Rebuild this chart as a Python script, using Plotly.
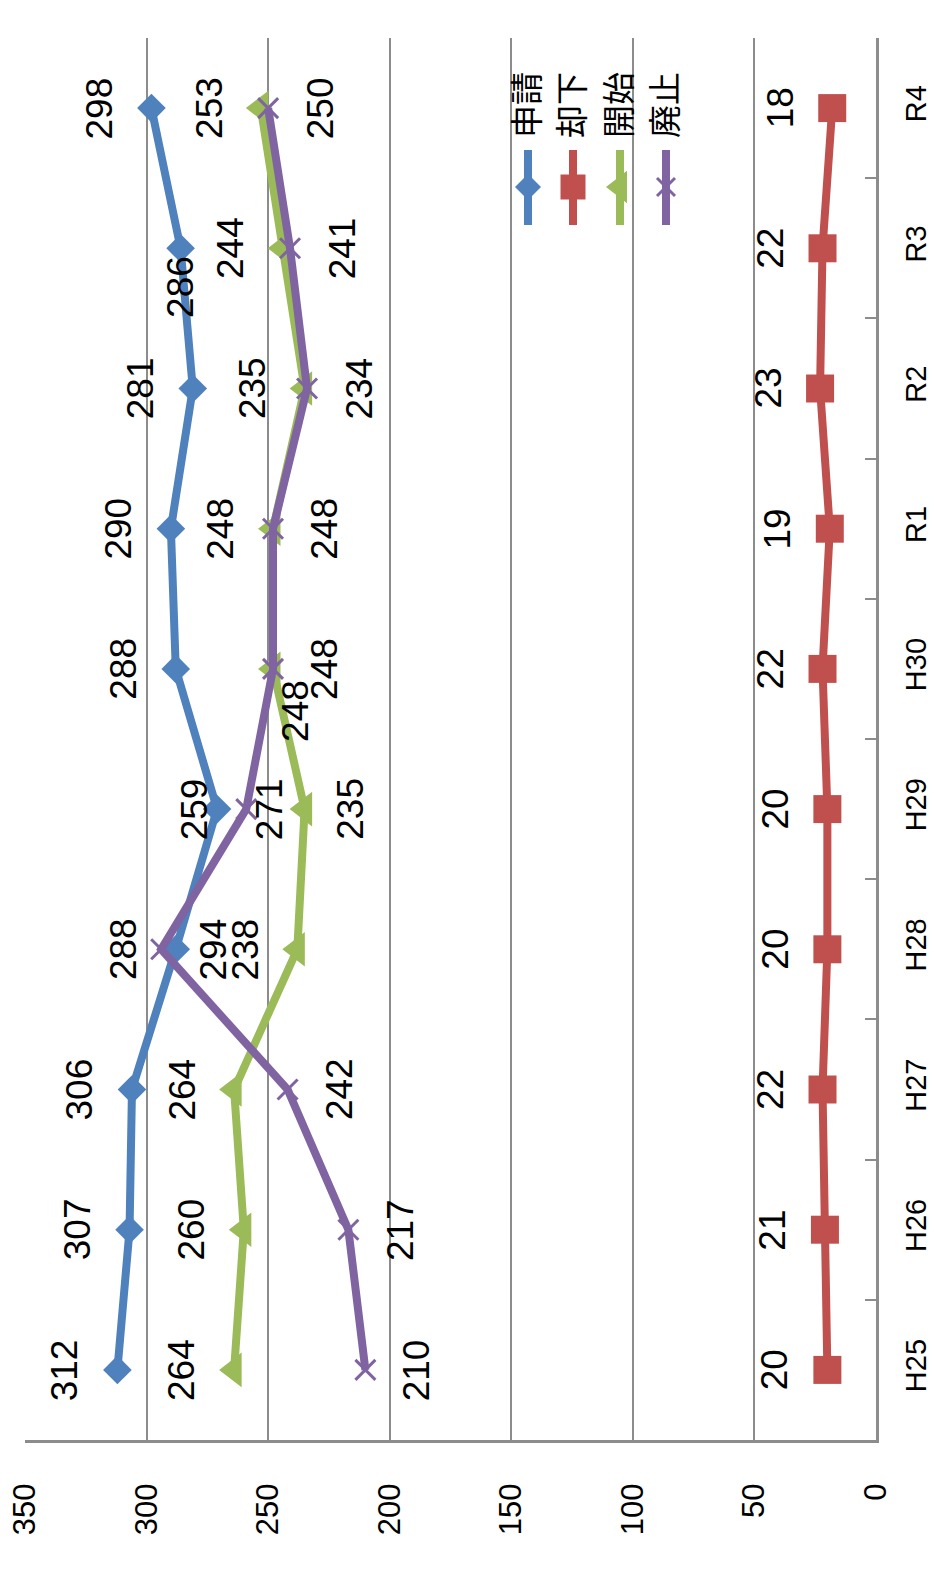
import plotly.graph_objects as go

# ---------------- data ----------------
categories = ["H25", "H26", "H27", "H28", "H29", "H30", "R1", "R2", "R3", "R4"]
series_names = ["申請", "却下", "開始", "廃止"]

shinsei = [312, 307, 306, 288, 271, 288, 290, 281, 286, 298]
kyakka = [20, 21, 22, 20, 20, 22, 19, 23, 22, 18]
kaishi = [264, 260, 264, 238, 235, 248, 248, 235, 244, 253]
haishi = [210, 217, 242, 294, 259, 248, 248, 234, 241, 250]

# data-label texts as printed on the chart
shinsei_labels = [312, 307, 306, 288, 259, 288, 290, 281, 286, 298]
kyakka_labels = [20, 21, 22, 20, 20, 22, 19, 23, 22, 18]
kaishi_labels = [264, 260, 264, 238, 235, 248, 248, 235, 244, 253]
haishi_labels = [210, 217, 242, 294, 271, 248, 248, 234, 241, 250]

value_ticks = [0, 50, 100, 150, 200, 250, 300, 350]

# ---------------- style ----------------
colors = ["#4F81BD", "#C0504D", "#9BBB59", "#8064A2"]
symbols = ["diamond", "square", "triangle-left", "x-thin"]
msizes = [22, 28, 30, 20]
leg_msizes = [20, 25, 28, 18]
label_side = [-1, -1, -1, 1]
LABEL_OFF = 52
# individual label adjustments: (series index, category index) -> (xshift, yshift)
label_overrides = {(2, 4): (45, 0), (2, 5): (23, -42), (0, 8): (0, -39)}

grid_col = "#8C8C8C"
num_font = "Liberation Sans Narrow, Arial Narrow, Liberation Sans, Arial, sans-serif"

# page geometry (the page body has an 8px default margin)
PAD = 8
PAGE_W, PAGE_H = 939, 1573
W, H = PAGE_W - 2 * PAD, PAGE_H - 2 * PAD - 10
PLOT_L, PLOT_R, PLOT_T, PLOT_B = 25, 876, 38, 1440   # page pixels
L = PLOT_L - PAD
T = PLOT_T - PAD
R = (PAD + W) - PLOT_R
B = (PAD + H) - PLOT_B

values = [shinsei, kyakka, kaishi, haishi]
labels = [shinsei_labels, kyakka_labels, kaishi_labels, haishi_labels]

fig = go.Figure()

for i, name in enumerate(series_names):
    mk = dict(symbol=symbols[i], size=msizes[i], color=colors[i])
    if symbols[i] == "x-thin":
        mk["line"] = dict(color=colors[i], width=3)
    fig.add_trace(go.Scatter(
        x=values[i], y=categories, mode="lines+markers", name=name,
        line=dict(color=colors[i], width=8), marker=mk,
        xaxis="x", yaxis="y", showlegend=False, hoverinfo="skip",
    ))

annotations = []
for i in range(4):
    for j, c in enumerate(categories):
        xs, ys = label_overrides.get((i, j), (label_side[i] * LABEL_OFF, 0))
        annotations.append(dict(
            x=labels[i][j], y=c, xref="x", yref="y", text=str(labels[i][j]),
            showarrow=False, textangle=-90, xshift=xs, yshift=ys,
            font=dict(family=num_font, size=37, color="#000000"),
            xanchor="center", yanchor="middle",
        ))

# ---------------- legend (rotated, drawn on a page-pixel overlay axis) ----------------
leg_x = [528, 573, 620, 666]
leg_line_y = [150, 225]
leg_marker_y = 187
leg_text_y = 105

for i, name in enumerate(series_names):
    fig.add_trace(go.Scatter(
        x=[leg_x[i], leg_x[i]], y=leg_line_y, mode="lines",
        line=dict(color=colors[i], width=8), xaxis="x2", yaxis="y2",
        showlegend=False, hoverinfo="skip",
    ))
    mk = dict(symbol=symbols[i], size=leg_msizes[i], color=colors[i])
    if symbols[i] == "x-thin":
        mk["line"] = dict(color=colors[i], width=3)
    fig.add_trace(go.Scatter(
        x=[leg_x[i]], y=[leg_marker_y], mode="markers", marker=mk,
        xaxis="x2", yaxis="y2", showlegend=False, hoverinfo="skip",
    ))
    annotations.append(dict(
        x=leg_x[i] - 3, y=leg_text_y, xref="x2", yref="y2", text=name,
        showarrow=False, textangle=-90,
        font=dict(family="Noto Sans CJK JP", size=33, color="#000000"),
        xanchor="center", yanchor="middle",
    ))

fig.update_layout(
    width=W, height=H,
    margin=dict(l=L, r=R, t=T, b=B, autoexpand=False),
    paper_bgcolor="white", plot_bgcolor="white",
    showlegend=False,
    xaxis=dict(
        range=[350, 0], tickvals=value_ticks, ticktext=[str(v) for v in value_ticks],
        tickangle=-90, showgrid=True, gridcolor=grid_col, gridwidth=2,
        showline=True, linecolor=grid_col, linewidth=3, ticks="",
        zeroline=False, ticklabelstandoff=28, automargin=False,
        ticklabeloverflow="allow",
        tickfont=dict(family="Liberation Sans, Arial, sans-serif", size=31, color="#000000"),
        fixedrange=True,
    ),
    yaxis=dict(
        type="category", categoryorder="array", categoryarray=categories,
        range=[-0.5, len(categories) - 0.5], side="right",
        tickangle=-90, showgrid=False, showline=True, linecolor=grid_col, linewidth=3,
        ticks="inside", tickson="boundaries", ticklen=11, tickcolor=grid_col, tickwidth=2,
        ticklabelstandoff=12, automargin=False, ticklabeloverflow="allow",
        tickfont=dict(family=num_font, size=29, color="#000000"),
        fixedrange=True,
    ),
    xaxis2=dict(range=[PLOT_L, PLOT_R], overlaying="x", anchor="y2", visible=False, fixedrange=True),
    yaxis2=dict(range=[PLOT_B, PLOT_T], overlaying="y", anchor="x2", visible=False, fixedrange=True),
    annotations=annotations,
)

fig.write_html("out.html")
